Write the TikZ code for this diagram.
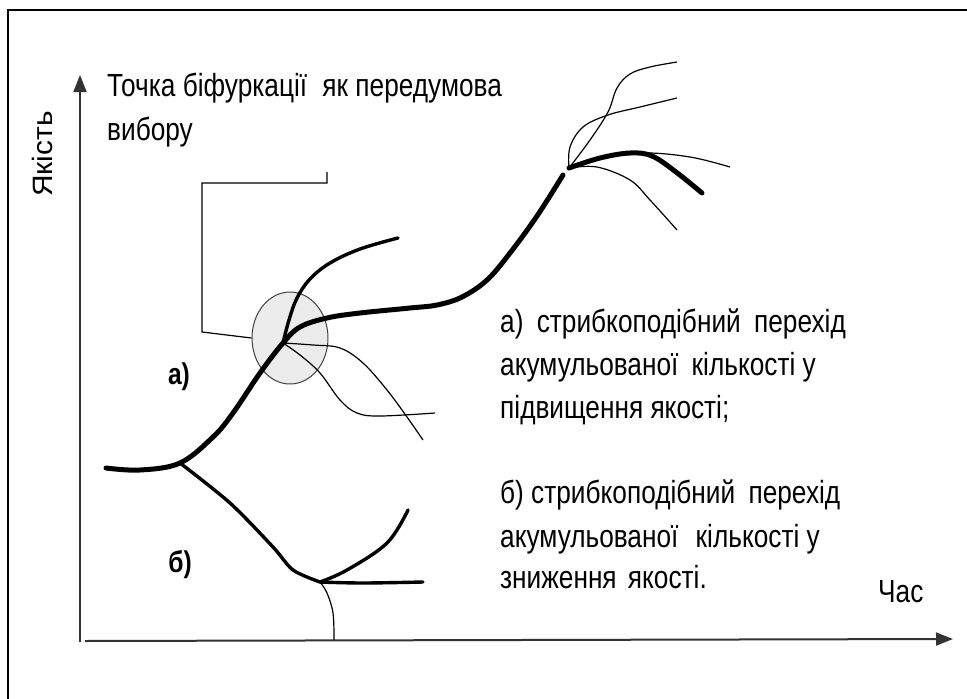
\documentclass[tikz,border=0pt]{standalone}
\usepackage{fontspec}
\newfontfamily\nf[FakeStretch=0.82]{Liberation Sans}
\usetikzlibrary{arrows.meta,shapes.geometric}
\begin{document}
\begin{tikzpicture}[x=1pt,y=-1pt,
  thickc/.style={line width=5pt, line cap=round},
  medc/.style={line width=3.4pt, line cap=round},
  thinc/.style={line width=1.2pt},
  axisline/.style={line width=2pt, draw=black!80, -{Triangle[length=17pt,width=13pt]}},
  lbl/.style={font=\nf\fontsize{32}{38}\selectfont, inner sep=0pt, anchor=base west},
  blbl/.style={font=\nf\bfseries\fontsize{30}{34}\selectfont, inner sep=0pt}]
\useasboundingbox (0,0) rectangle (967,699);
% frame
\draw[line width=2.5pt] (8,699) -- (8,10) -- (967,10);
% axes
\coordinate (yb) at (80,642);
\coordinate (yt) at (80,75);
\coordinate (xl) at (85,641);
\coordinate (xr) at (953,639);
\draw[axisline] (yb) -- (yt);
\draw[axisline] (xl) -- (xr);
\node[font=\nf\fontsize{28}{32}\selectfont, rotate=90, inner sep=0pt] (ylab) at (42,154) {\scalebox{1.3}[1]{Якість}};
\node[lbl] (xlab) at (878,602) {Час};
% title
\node[lbl] (t1) at (107,96) {Точка біфуркації\hspace{8pt} як передумова};
\node[lbl] (t2) at (107,140) {вибору};
% bifurcation circle
\node[draw=black!75, fill=black!8, line width=1pt, ellipse, minimum width=76pt, minimum height=92pt, inner sep=0pt] (circ) at (290,338) {};
% bracket
\draw[thinc] (327,172) -- (327,183) -- (202,183) -- (202,332) -- (circ.west);
% key points
\coordinate (P0) at (106,468);
\coordinate (B) at (180,463);
\coordinate (A) at (283,343);
\coordinate (E) at (563,175);
\coordinate (F) at (569,168);
\coordinate (C) at (320,582);
% thin branches at A
\draw[thinc] plot[smooth, tension=0.6] coordinates {(A) (313,345) (340,348) (363,363) (387,390) (407,417) (423,440)};
\draw[thinc] plot[smooth, tension=0.6] coordinates {(A) (300,355) (320,373) (340,400) (357,413) (380,416) (435,413)};
% main curve a)
\draw[thickc] plot[smooth, tension=0.6] coordinates {(P0) (140,470) (B) (213,437) (233,413) (260,373) (A) (300,327) (327,318) (360,313) (410,308) (437,305) (462,297) (487,280) (510,253) (537,216) (E)};
% upper branch at A
\draw[medc] plot[smooth, tension=0.6] coordinates {(A) (289,320) (297,298) (310,279) (330,263) (360,249) (398,238)};
% fan at F
\draw[thickc] plot[smooth, tension=0.6] coordinates {(F) (600,158) (630,153) (652,156) (676,172) (702,193)};
\draw[thinc] plot[smooth, tension=0.6] coordinates {(F) (600,159) (643,153) (690,157) (730,167)};
\draw[thinc] plot[smooth, tension=0.6] coordinates {(F) (597,167) (630,180) (650,200) (677,230)};
\draw[thinc] plot[smooth, tension=0.6] coordinates {(F) (570,147) (583,127) (608,115) (640,107) (677,98)};
\draw[thinc] plot[smooth, tension=0.6] coordinates {(F) (590,140) (608,112) (617,88) (630,74) (650,67) (677,62)};
% curve b)
\draw[medc] plot[smooth, tension=0.5] coordinates {(B) (230,503) (273,547) (293,570) (C)};
\draw[medc] plot[smooth, tension=0.6] coordinates {(C) (347,570) (387,543) (408,510)};
\draw[medc] plot[smooth, tension=0.6] coordinates {(C) (363,583) (423,582)};
\draw[thinc] plot[smooth, tension=0.6] coordinates {(C) (327,593) (333,613) (334,640)};
% labels
\node[blbl] (la) at (179,377) {а)};
\node[blbl] (lb) at (180,565) {б)};
% right text
\node[lbl] (r1) at (500,332) {а)\hspace{6pt} стрибкоподібний\hspace{6pt} перехід};
\node[lbl] (r2) at (500,375) {акумульованої\hspace{6pt} кількості у};
\node[lbl] (r3) at (500,418) {підвищення якості;};
\node[lbl] (r4) at (500,503) {б) стрибкоподібний\hspace{6pt} перехід};
\node[lbl] (r5) at (500,547) {акумульованої\hspace{10pt} кількості у};
\node[lbl] (r6) at (500,588) {зниження\hspace{4pt} якості.};
\end{tikzpicture}
\end{document}
